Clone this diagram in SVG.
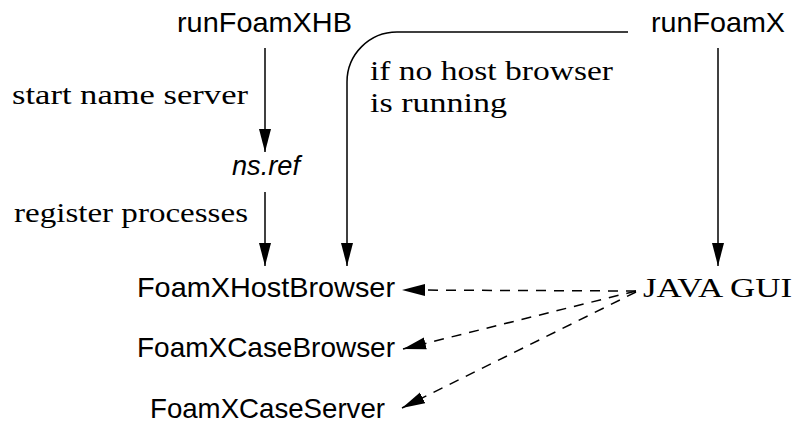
<svg xmlns="http://www.w3.org/2000/svg" width="794" height="423" viewBox="0 0 794 423">
  <style>
    .sans { font-family: "Liberation Sans", Arial, sans-serif; font-size: 28px; fill: #000; }
    .serif { font-family: "Liberation Serif", "Times New Roman", serif; font-size: 28px; fill: #000; }
    .it { font-style: italic; }
    .edge { fill: none; stroke: #000; stroke-width: 1.5; }
    .dash { stroke-dasharray: 10 8; }
  </style>
  <defs>
    <marker id="arrow" markerUnits="userSpaceOnUse" markerWidth="26" markerHeight="14" refX="23" refY="6.5" orient="auto">
      <path d="M0,0.5 L23,6.5 L0,12.5 z" fill="#000" stroke="none"/>
    </marker>
  </defs>
  <rect width="794" height="423" fill="#fff"/>

  <g id="connectors">
    <path class="edge" d="M265,48 L265,152" marker-end="url(#arrow)"/>
    <path class="edge" d="M265,192 L265,266" marker-end="url(#arrow)"/>
    <path class="edge" d="M628,32 L397,32 A50,50 0 0 0 347,82 L347,266" marker-end="url(#arrow)"/>
    <path class="edge" d="M718,48 L718,266" marker-end="url(#arrow)"/>
    <path class="edge dash" d="M636,291 L402,290" marker-end="url(#arrow)"/>
    <path class="edge dash" d="M636,291 L403,349" marker-end="url(#arrow)"/>
    <path class="edge dash" d="M636,292 L402,408" marker-end="url(#arrow)"/>
  </g>

  <g id="label-start-name-server">
    <text class="serif" x="12" y="104" textLength="236" lengthAdjust="spacingAndGlyphs">start name server</text>
  </g>
  <g id="label-register-processes">
    <text class="serif" x="14" y="222" textLength="234" lengthAdjust="spacingAndGlyphs">register processes</text>
  </g>
  <g id="label-if-no-host">
    <text class="serif" x="370" y="80" textLength="243" lengthAdjust="spacingAndGlyphs">if no host browser</text>
    <text class="serif" x="370" y="112" textLength="137" lengthAdjust="spacingAndGlyphs">is running</text>
  </g>

  <g id="runFoamXHB">
    <text class="sans" x="177" y="32" textLength="175" lengthAdjust="spacingAndGlyphs">runFoamXHB</text>
  </g>
  <g id="runFoamX">
    <text class="sans" x="651" y="32" textLength="134" lengthAdjust="spacingAndGlyphs">runFoamX</text>
  </g>
  <g id="nsref">
    <text class="sans it" x="232" y="175" textLength="68" lengthAdjust="spacingAndGlyphs">ns.ref</text>
  </g>
  <g id="FoamXHostBrowser">
    <text class="sans" x="137" y="297" textLength="258" lengthAdjust="spacingAndGlyphs">FoamXHostBrowser</text>
  </g>
  <g id="JAVAGUI">
    <text class="serif" x="643" y="297" textLength="149" lengthAdjust="spacingAndGlyphs">JAVA GUI</text>
  </g>
  <g id="FoamXCaseBrowser">
    <text class="sans" x="137" y="357" textLength="258" lengthAdjust="spacingAndGlyphs">FoamXCaseBrowser</text>
  </g>
  <g id="FoamXCaseServer">
    <text class="sans" x="150" y="418" textLength="235" lengthAdjust="spacingAndGlyphs">FoamXCaseServer</text>
  </g>
</svg>
